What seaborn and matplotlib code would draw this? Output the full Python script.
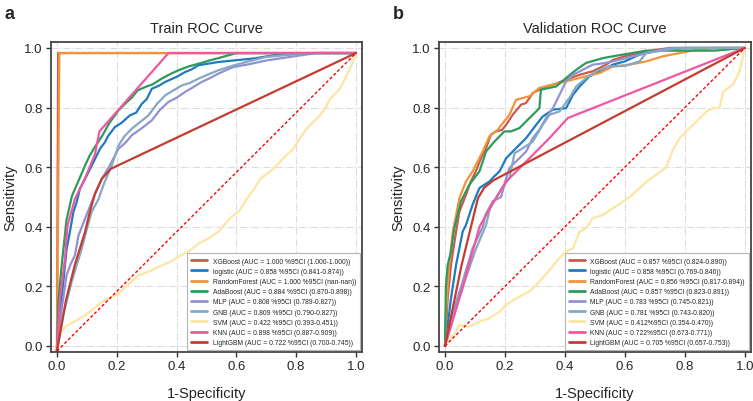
import numpy as np
import pandas as pd
import matplotlib
matplotlib.use("Agg")
import matplotlib.pyplot as plt
import seaborn as sns

# ---------------- data ----------------
MODELS = ["XGBoost", "logistic", "RandomForest", "AdaBoost", "MLP", "GNB", "SVM", "KNN", "LightGBM"]

TRAIN_LABELS = [
    "XGBoost (AUC = 1.000 %95CI (1.000-1.000))",
    "logistic (AUC = 0.858 %95CI (0.841-0.874))",
    "RandomForest (AUC = 1.000 %95CI (nan-nan))",
    "AdaBoost (AUC = 0.884 %95CI (0.870-0.898))",
    "MLP (AUC = 0.808 %95CI (0.789-0.827))",
    "GNB (AUC = 0.809 %95CI (0.790-0.827))",
    "SVM (AUC = 0.422 %95CI (0.393-0.451))",
    "KNN (AUC = 0.898 %95CI (0.887-0.909))",
    "LightGBM (AUC = 0.722 %95CI (0.700-0.745))",
]
VAL_LABELS = [
    "XGBoost (AUC = 0.857 %95CI (0.824-0.890))",
    "logistic (AUC = 0.858 %95CI (0.769-0.846))",
    "RandomForest (AUC = 0.856 %95CI (0.817-0.894))",
    "AdaBoost (AUC = 0.857 %95CI (0.823-0.891))",
    "MLP (AUC = 0.783 %95CI (0.745-0.821))",
    "GNB (AUC = 0.781 %95CI (0.743-0.820))",
    "SVM (AUC = 0.412%95CI (0.354-0.470))",
    "KNN (AUC = 0.722%95CI (0.673-0.771))",
    "LightGBM (AUC = 0.705 %95CI (0.657-0.753))",
]

# Train ROC points (fpr, tpr)
TRAIN_XGBOOST = [(0, 0), (0.004, 1.0), (1, 1)]
TRAIN_LOGISTIC = [(0, 0), (0.01, 0.12), (0.021, 0.23), (0.032, 0.34), (0.045, 0.41), (0.055, 0.467),
                  (0.066, 0.50), (0.077, 0.545), (0.09, 0.57), (0.105, 0.60), (0.125, 0.64), (0.144, 0.679),
                  (0.16, 0.70), (0.17, 0.72), (0.194, 0.752), (0.215, 0.765), (0.244, 0.791), (0.265, 0.80),
                  (0.284, 0.83), (0.30, 0.845), (0.317, 0.88), (0.34, 0.89), (0.362, 0.903), (0.40, 0.92),
                  (0.428, 0.936), (0.45, 0.945), (0.473, 0.959), (0.51, 0.965), (0.54, 0.970), (0.59, 0.975),
                  (0.66, 0.982), (0.734, 0.994), (0.85, 1.0), (1, 1)]
TRAIN_RF = [(0, 0), (0.008, 1.0), (1, 1)]
TRAIN_ADABOOST = [(0, 0), (0.005, 0.17), (0.016, 0.29), (0.032, 0.44), (0.05, 0.52), (0.065, 0.555),
                  (0.08, 0.59), (0.095, 0.625), (0.11, 0.657), (0.13, 0.69), (0.15, 0.72), (0.175, 0.765),
                  (0.206, 0.808), (0.23, 0.832), (0.25, 0.85), (0.27, 0.875), (0.295, 0.886), (0.32, 0.895),
                  (0.35, 0.914), (0.38, 0.93), (0.406, 0.942), (0.44, 0.955), (0.473, 0.964), (0.51, 0.975),
                  (0.54, 0.983), (0.6, 1.0), (1, 1)]
TRAIN_MLP = [(0, 0), (0.016, 0.142), (0.032, 0.254), (0.045, 0.29), (0.06, 0.321), (0.072, 0.388),
             (0.094, 0.444), (0.12, 0.51), (0.15, 0.578), (0.175, 0.62), (0.206, 0.679), (0.23, 0.70),
             (0.25, 0.724), (0.28, 0.745), (0.317, 0.774), (0.345, 0.81), (0.373, 0.836), (0.40, 0.85),
             (0.428, 0.869), (0.455, 0.885), (0.484, 0.903), (0.51, 0.915), (0.54, 0.931), (0.589, 0.953),
             (0.64, 0.962), (0.70, 0.975), (0.80, 0.99), (0.87, 1.0), (1, 1)]
TRAIN_GNB = [(0, 0), (0.021, 0.12), (0.049, 0.232), (0.083, 0.344), (0.10, 0.41), (0.116, 0.467),
             (0.139, 0.51), (0.155, 0.556), (0.183, 0.623), (0.206, 0.69), (0.225, 0.72), (0.25, 0.746),
             (0.28, 0.77), (0.306, 0.791), (0.335, 0.83), (0.362, 0.858), (0.39, 0.875), (0.417, 0.891),
             (0.445, 0.90), (0.473, 0.914), (0.51, 0.93), (0.54, 0.942), (0.589, 0.958), (0.64, 0.972),
             (0.70, 0.987), (0.85, 1.0), (1, 1)]
TRAIN_SVM = [(0, 0), (0.005, 0.05), (0.027, 0.081), (0.06, 0.10), (0.094, 0.12), (0.12, 0.14),
             (0.15, 0.165), (0.18, 0.18), (0.206, 0.193), (0.24, 0.225), (0.273, 0.254), (0.31, 0.268),
             (0.35, 0.287), (0.38, 0.30), (0.406, 0.316), (0.44, 0.335), (0.473, 0.36), (0.51, 0.38),
             (0.54, 0.40), (0.578, 0.445), (0.61, 0.47), (0.634, 0.51), (0.66, 0.545), (0.679, 0.577),
             (0.71, 0.60), (0.734, 0.622), (0.76, 0.65), (0.79, 0.678), (0.81, 0.71), (0.835, 0.746),
             (0.879, 0.79), (0.90, 0.82), (0.913, 0.846), (0.946, 0.88), (0.969, 0.925), (0.99, 0.97),
             (1, 1)]
TRAIN_KNN = [(0, 0), (0.01, 0.18), (0.027, 0.31), (0.035, 0.42), (0.06, 0.51), (0.094, 0.58),
             (0.127, 0.66), (0.142, 0.737), (0.373, 1.0), (1, 1)]
TRAIN_LIGHTGBM = [(0, 0), (0.03, 0.17), (0.06, 0.29), (0.094, 0.40), (0.11, 0.467), (0.127, 0.528),
                  (0.15, 0.578), (0.181, 0.612), (1, 1)]

# Validation ROC points (fpr, tpr)
VAL_XGBOOST = [(0, 0), (0.009, 0.16), (0.02, 0.272), (0.037, 0.384), (0.048, 0.451), (0.07, 0.507),
               (0.085, 0.55), (0.103, 0.586), (0.12, 0.63), (0.137, 0.664), (0.153, 0.709), (0.17, 0.72),
               (0.19, 0.725), (0.204, 0.742), (0.226, 0.776), (0.254, 0.81), (0.27, 0.815), (0.293, 0.849),
               (0.337, 0.871), (0.37, 0.88), (0.404, 0.894), (0.449, 0.91), (0.493, 0.922), (0.538, 0.944),
               (0.56, 0.96), (0.60, 0.972), (0.671, 0.989), (0.75, 1.0), (1, 1)]
VAL_LOGISTIC = [(0, 0), (0.009, 0.07), (0.02, 0.16), (0.037, 0.272), (0.059, 0.384), (0.07, 0.406),
                (0.092, 0.474), (0.115, 0.53), (0.148, 0.552), (0.165, 0.57), (0.182, 0.586), (0.204, 0.63),
                (0.237, 0.664), (0.271, 0.698), (0.304, 0.742), (0.326, 0.77), (0.36, 0.793), (0.404, 0.798),
                (0.427, 0.843), (0.449, 0.871), (0.482, 0.905), (0.538, 0.933), (0.56, 0.944), (0.60, 0.955),
                (0.649, 0.978), (0.727, 0.994), (0.80, 1.0), (1, 1)]
VAL_RF = [(0, 0), (0.003, 0.104), (0.014, 0.272), (0.026, 0.384), (0.048, 0.496), (0.07, 0.552),
          (0.092, 0.586), (0.126, 0.653), (0.148, 0.703), (0.176, 0.726), (0.215, 0.776), (0.237, 0.826),
          (0.282, 0.838), (0.315, 0.866), (0.36, 0.877), (0.427, 0.894), (0.471, 0.905), (0.516, 0.916),
          (0.56, 0.938), (0.616, 0.944), (0.671, 0.955), (0.727, 0.972), (0.783, 0.983), (0.839, 0.994),
          (0.894, 1.0), (1, 1)]
VAL_ADABOOST = [(0, 0), (0.003, 0.2), (0.009, 0.272), (0.02, 0.317), (0.031, 0.395), (0.053, 0.485),
                (0.081, 0.541), (0.115, 0.586), (0.137, 0.653), (0.165, 0.686), (0.198, 0.72), (0.22, 0.72),
                (0.248, 0.731), (0.282, 0.765), (0.315, 0.798), (0.32, 0.86), (0.371, 0.871), (0.404, 0.899),
                (0.438, 0.927), (0.471, 0.95), (0.527, 0.966), (0.56, 0.972), (0.671, 0.991), (0.90, 0.991),
                (1, 1)]
VAL_MLP = [(0, 0), (0.009, 0.048), (0.031, 0.127), (0.059, 0.216), (0.092, 0.328), (0.126, 0.40),
           (0.135, 0.44), (0.159, 0.485), (0.187, 0.50), (0.204, 0.563), (0.215, 0.597), (0.248, 0.63),
           (0.271, 0.653), (0.293, 0.698), (0.315, 0.726), (0.337, 0.765), (0.36, 0.798), (0.382, 0.843),
           (0.404, 0.888), (0.427, 0.91), (0.46, 0.927), (0.493, 0.944), (0.538, 0.95), (0.56, 0.955),
           (0.62, 0.97), (0.671, 0.983), (0.75, 1.0), (1, 1)]
VAL_GNB = [(0, 0), (0.014, 0.048), (0.037, 0.127), (0.065, 0.216), (0.104, 0.328), (0.137, 0.406),
           (0.15, 0.462), (0.17, 0.496), (0.19, 0.53), (0.215, 0.563), (0.232, 0.647), (0.26, 0.664),
           (0.293, 0.686), (0.326, 0.742), (0.349, 0.776), (0.382, 0.787), (0.415, 0.832), (0.438, 0.871),
           (0.471, 0.899), (0.504, 0.922), (0.549, 0.938), (0.60, 0.94), (0.649, 0.955), (0.671, 0.983),
           (0.783, 1.0), (1, 1)]
VAL_SVM = [(0, 0), (0.003, 0.015), (0.026, 0.031), (0.048, 0.071), (0.081, 0.065), (0.115, 0.082),
           (0.148, 0.093), (0.182, 0.115), (0.204, 0.138), (0.237, 0.16), (0.282, 0.183), (0.315, 0.216),
           (0.349, 0.255), (0.376, 0.289), (0.404, 0.317), (0.427, 0.328), (0.449, 0.384), (0.471, 0.395),
           (0.493, 0.429), (0.527, 0.44), (0.56, 0.462), (0.616, 0.50), (0.671, 0.55), (0.705, 0.575),
           (0.738, 0.60), (0.761, 0.66), (0.783, 0.698), (0.805, 0.72), (0.839, 0.754), (0.872, 0.787),
           (0.894, 0.798), (0.916, 0.80), (0.928, 0.854), (0.961, 0.877), (0.983, 0.922), (1, 1)]
VAL_KNN = [(0, 0), (0.06, 0.2), (0.115, 0.40), (0.16, 0.48), (0.204, 0.552), (0.271, 0.619),
           (0.349, 0.698), (0.41, 0.765), (1, 1)]
VAL_LIGHTGBM = [(0, 0), (0.055, 0.27), (0.11, 0.496), (0.13, 0.53), (0.16, 0.555), (1, 1)]

TRAIN_CURVES = [TRAIN_XGBOOST, TRAIN_LOGISTIC, TRAIN_RF, TRAIN_ADABOOST, TRAIN_MLP,
                TRAIN_GNB, TRAIN_SVM, TRAIN_KNN, TRAIN_LIGHTGBM]
VAL_CURVES = [VAL_XGBOOST, VAL_LOGISTIC, VAL_RF, VAL_ADABOOST, VAL_MLP,
              VAL_GNB, VAL_SVM, VAL_KNN, VAL_LIGHTGBM]

TICKS = [0.0, 0.2, 0.4, 0.6, 0.8, 1.0]

# ---------------- style ----------------
COLORS = ["#cb5a50", "#1f7bc1", "#f0953c", "#2e9a5c", "#9292d2",
          "#86a8c2", "#fde5a4", "#f0579e", "#c23c2f"]
TRAIN_Y_SHIFT = -0.017   # the train panel is drawn slightly lowered in the reference

sns.set_theme(style="white")
plt.rcParams["font.family"] = ["Liberation Sans", "DejaVu Sans"]


def make_df(curves, labels, shift):
    rows = []
    for lab, pts in zip(labels, curves):
        for i, (f, t) in enumerate(pts):
            rows.append({"model": lab, "order": i, "fpr": f, "tpr": t + shift})
    return pd.DataFrame(rows)


fig = plt.figure(figsize=(7.53, 4.02), dpi=100)
ax1 = fig.add_axes([0.0677, 0.122, 0.413, 0.771])
ax2 = fig.add_axes([0.583, 0.122, 0.414, 0.771])

panels = [
    (ax1, TRAIN_CURVES, TRAIN_LABELS, TRAIN_Y_SHIFT, "Train ROC Curve", "a"),
    (ax2, VAL_CURVES, VAL_LABELS, 0.0, "Validation ROC Curve", "b"),
]

for ax, curves, labels, shift, title, letter in panels:
    df = make_df(curves, labels, shift)
    ax.grid(True, color="#dcdcdc", linestyle="-.", linewidth=0.8)
    ax.set_axisbelow(True)
    sns.lineplot(data=df, x="fpr", y="tpr", hue="model", hue_order=labels,
                 palette=COLORS, sort=False, estimator=None, units=None,
                 linewidth=1.6, ax=ax, legend=True)
    ax.plot([0, 1], [0 + shift, 1 + shift], color="red", linestyle=(0, (2.2, 1.6)),
            linewidth=1.0, zorder=3)
    ax.set_xlim(-0.02, 1.02)
    ax.set_ylim(-0.02, 1.02)
    ax.set_xticks(TICKS)
    ax.set_yticks(TICKS)
    ax.set_xticklabels([f"{t:.1f}" for t in TICKS])
    ax.set_yticklabels([f"{t:.1f}" for t in TICKS])
    ax.tick_params(axis="both", which="major", labelsize=9.5, length=3.5, width=1.0,
                   color="#333333", direction="out", pad=2.5, bottom=True, left=True)
    for sp in ax.spines.values():
        sp.set_color("#444444")
        sp.set_linewidth(1.3)
    ax.set_title(title, fontsize=10.5, pad=7)
    ax.set_xlabel("1-Specificity", fontsize=10.5, labelpad=10)
    ax.set_ylabel("Sensitivity", fontsize=10.5, labelpad=5)

    handles, labs = ax.get_legend_handles_labels()
    leg = ax.legend(handles, labs, loc="lower right", fontsize=4.9, labelspacing=0.47,
                    handlelength=2.4, handletextpad=0.8, borderpad=0.6,
                    borderaxespad=0.25, frameon=True, fancybox=False,
                    edgecolor="#b5b5b5", facecolor="white", framealpha=1.0)
    leg.get_frame().set_linewidth(0.8)
    for h in leg.get_lines():
        h.set_linewidth(2.0)

fig.text(0.006, 0.985, "a", fontsize=13, fontweight="bold", va="top", ha="left")
fig.text(0.521, 0.985, "b", fontsize=13, fontweight="bold", va="top", ha="left")

fig.savefig("out.png", dpi=100)
